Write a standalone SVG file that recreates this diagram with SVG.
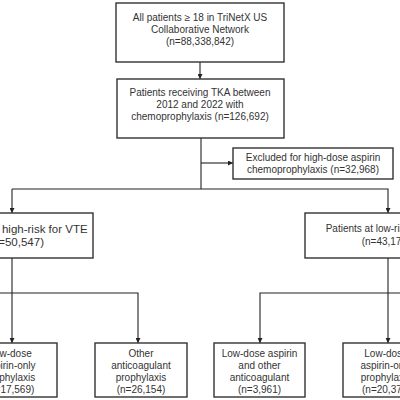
<svg xmlns="http://www.w3.org/2000/svg" width="400" height="400" viewBox="0 0 400 400">
<defs>
<marker id="ah" viewBox="0 0 10 10" refX="10" refY="5" markerWidth="5" markerHeight="5" orient="auto" markerUnits="userSpaceOnUse">
<path d="M0,0 L10,5 L0,10 z" fill="#222"/>
</marker>
<style>
.box{fill:#fff;stroke:#333;stroke-width:1.4}
.t{font-family:"Liberation Sans",Arial,sans-serif;font-size:10px;fill:#333;text-anchor:middle}
.m{font-size:11.5px}
.s{text-anchor:start}
.c{fill:none;stroke:#222;stroke-width:1.1}
</style>
</defs>
<rect width="400" height="400" fill="#fff"/>
<g id="connectors">
<path class="c" d="M200,62 V79" marker-end="url(#ah)"/>
<path class="c" d="M201,138 V189"/>
<path class="c" d="M201,163 H233" marker-end="url(#ah)"/>
<path class="c" d="M12,189 H388 V213" marker-end="url(#ah)"/>
<path class="c" d="M12,189 V213" marker-end="url(#ah)"/>
<path class="c" d="M12,258 V343" marker-end="url(#ah)"/>
<path class="c" d="M-10,293 H138 V343" marker-end="url(#ah)"/>
<path class="c" d="M388,258 V343" marker-end="url(#ah)"/>
<path class="c" d="M410,293 H260 V343" marker-end="url(#ah)"/>
</g>
<g id="n1">
<rect class="box" x="116" y="3" width="168" height="59"/>
<text class="t" x="200" y="21">All patients ≥ 18 in TriNetX US</text>
<text class="t" x="200" y="33">Collaborative Network</text>
<text class="t" x="200" y="45">(n=88,338,842)</text>
</g>
<g id="n2">
<rect class="box" x="117" y="79" width="167" height="59"/>
<text class="t" x="200" y="96">Patients receiving TKA between</text>
<text class="t" x="200" y="108">2012 and 2022 with</text>
<text class="t" x="200" y="120">chemoprophylaxis (n=126,692)</text>
</g>
<g id="n3">
<rect class="box" x="233" y="148" width="160" height="31"/>
<text class="t" x="313" y="161">Excluded for high-dose aspirin</text>
<text class="t" x="313" y="173">chemoprophylaxis (n=32,968)</text>
</g>
<g id="n4">
<rect class="box" x="-70" y="213" width="163" height="45"/>
<text class="t m" x="16" y="232.5">Patients at high-risk for VTE</text>
<text class="t m" x="16" y="245.5">(n=50,547)</text>
</g>
<g id="n5">
<rect class="box" x="305" y="213" width="166" height="45"/>
<text class="t" x="386" y="232">Patients at low-risk for VTE</text>
<text class="t" x="386" y="245">(n=43,177)</text>
</g>
<g id="n6">
<rect class="box" x="-34" y="343" width="91" height="54"/>
<text class="t" x="10" y="357">Low-dose</text>
<text class="t" x="10" y="369">aspirin-only</text>
<text class="t" x="10" y="381">prophylaxis</text>
<text class="t" x="10" y="393">(n=17,569)</text>
</g>
<g id="n7">
<rect class="box" x="95" y="343" width="92" height="54"/>
<text class="t" x="141" y="357">Other</text>
<text class="t" x="141" y="369">anticoagulant</text>
<text class="t" x="141" y="381">prophylaxis</text>
<text class="t" x="141" y="393">(n=26,154)</text>
</g>
<g id="n8">
<rect class="box" x="214" y="343" width="91" height="54"/>
<text class="t" x="259.5" y="357">Low-dose aspirin</text>
<text class="t" x="259.5" y="369">and other</text>
<text class="t" x="259.5" y="381">anticoagulant</text>
<text class="t" x="259.5" y="393">(n=3,961)</text>
</g>
<g id="n9">
<rect class="box" x="343" y="343" width="91" height="54"/>
<text class="t" x="386" y="357">Low-dose</text>
<text class="t" x="386" y="369">aspirin-only</text>
<text class="t" x="386" y="381">prophylaxis</text>
<text class="t s" x="362" y="393">(n=20,37</text>
</g>
</svg>
